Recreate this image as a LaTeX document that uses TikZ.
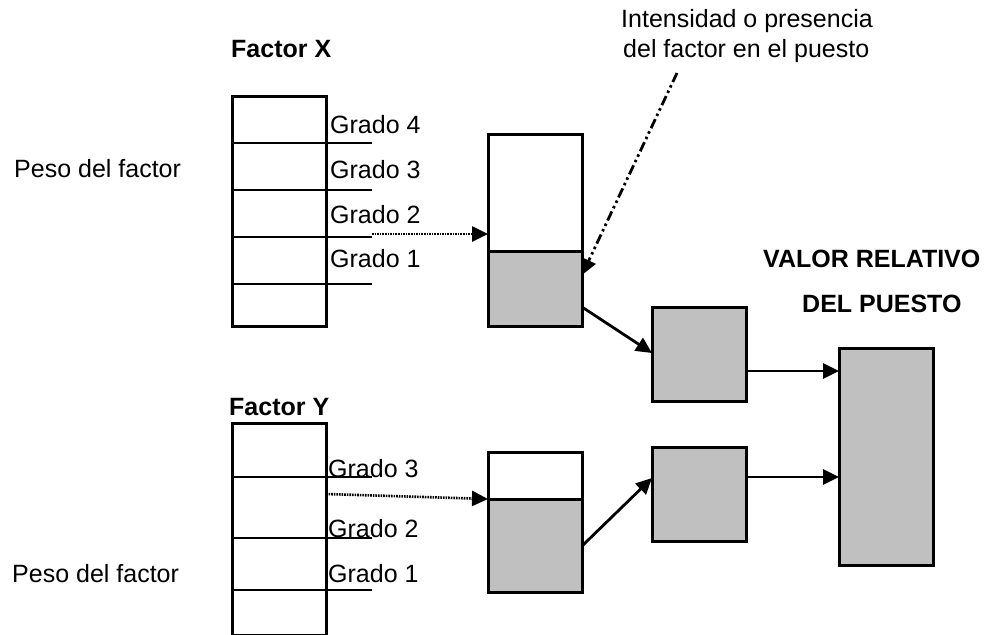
\documentclass[tikz,border=0pt]{standalone}
\usepackage{fontspec}
\setmainfont{Liberation Sans}
\usetikzlibrary{arrows.meta}
\definecolor{boxgrey}{HTML}{C0C0C0}
\begin{document}
\begin{tikzpicture}[x=1pt,y=-1pt,
  lbl/.style={inner sep=0pt,anchor=base west,font=\fontsize{25}{30}\selectfont},
  blbl/.style={inner sep=0pt,anchor=base west,font=\fontsize{25}{30}\selectfont\bfseries},
  cell/.style={draw,line width=3pt,inner sep=0pt,outer sep=0pt,anchor=north west,fill=white},
  gcell/.style={cell,fill=boxgrey},
  hline/.style={line width=2.2pt},
  tip/.style={-{Triangle[length=16pt,width=15pt]}},
  conn/.style={tip,line width=2.8pt},
  dotconn/.style={tip,line width=2.6pt,dash pattern=on 1.6pt off 1pt},
  dashdotconn/.style={tip,line width=2.8pt,dash pattern=on 10pt off 3.5pt on 2.5pt off 3.5pt on 2.5pt off 3.5pt}
]
\useasboundingbox (0,0) rectangle (995,634);

% ---------- Factor X ----------
\node[blbl] (fx) at (231,58) {Factor X};
\node[lbl] (px) at (14,177) {Peso del factor};
\node[cell,minimum width=94pt,minimum height=230pt] (colx) at (232,96) {};
\foreach \yy/\nm in {143/a,190/b,237/c,284/d}{
  \coordinate (xl\nm) at (232,\yy);
  \coordinate (xr\nm) at (372,\yy);
  \draw[hline] (xl\nm) -- (xr\nm);
}
\node[lbl] (gx4) at (330,133) {Grado 4};
\node[lbl] (gx3) at (330,178) {Grado 3};
\node[lbl] (gx2) at (330,223) {Grado 2};
\node[lbl] (gx1) at (330,267) {Grado 1};

\node[cell,minimum width=94pt,minimum height=117pt] (wx) at (488,134) {};
\node[gcell,minimum width=94pt,minimum height=75pt] (gx) at (488,251) {};

% ---------- Factor Y ----------
\node[blbl] (fy) at (229,415) {Factor Y};
\node[lbl] (py) at (12,582) {Peso del factor};
\node[cell,minimum width=94pt,minimum height=212pt] (coly) at (232,423) {};
\foreach \yy/\nm in {477/a,538/b,590/c}{
  \coordinate (yl\nm) at (232,\yy);
  \coordinate (yr\nm) at (372,\yy);
  \draw[hline] (yl\nm) -- (yr\nm);
}
\node[lbl] (gy3) at (328,477) {Grado 3};
\node[lbl] (gy2) at (328,537) {Grado 2};
\node[lbl] (gy1) at (328,582) {Grado 1};

\node[cell,minimum width=94pt,minimum height=47pt] (wy) at (488,452) {};
\node[gcell,minimum width=94pt,minimum height=93pt] (gy) at (488,499) {};

% ---------- Right side ----------
\node[gcell,minimum width=94pt,minimum height=94pt] (sx) at (652,307) {};
\node[gcell,minimum width=94pt,minimum height=94pt] (sy) at (652,447) {};
\node[gcell,minimum width=94pt,minimum height=217pt] (tot) at (839,348) {};

\node[blbl] (v1) at (763,267) {VALOR RELATIVO};
\node[blbl] (v2) at (802,312) {DEL PUESTO};

\node[lbl] (i1) at (621,28) {Intensidad o presencia};
\node[lbl] (i2) at (623,57) {del factor en el puesto};
\coordinate (istart) at (677,73);

% ---------- Connectors ----------
\draw[dotconn] (xrc |- 0,234) -- (wx.west |- 0,234);
\draw[dotconn] (coly.east |- 0,494) -- (gy.north west);
\draw[dashdotconn] (istart) -- (gx.east |- 0,275);
\draw[conn] (gx.east |- 0,307) -- (sx.west |- 0,353);
\draw[conn] (gy.east |- 0,546) -- (sy.west |- 0,478);
\draw[conn] (sx.east |- 0,371) -- (tot.west |- 0,371);
\draw[conn] (sy.east |- 0,477) -- (tot.west |- 0,477);
\end{tikzpicture}
\end{document}
